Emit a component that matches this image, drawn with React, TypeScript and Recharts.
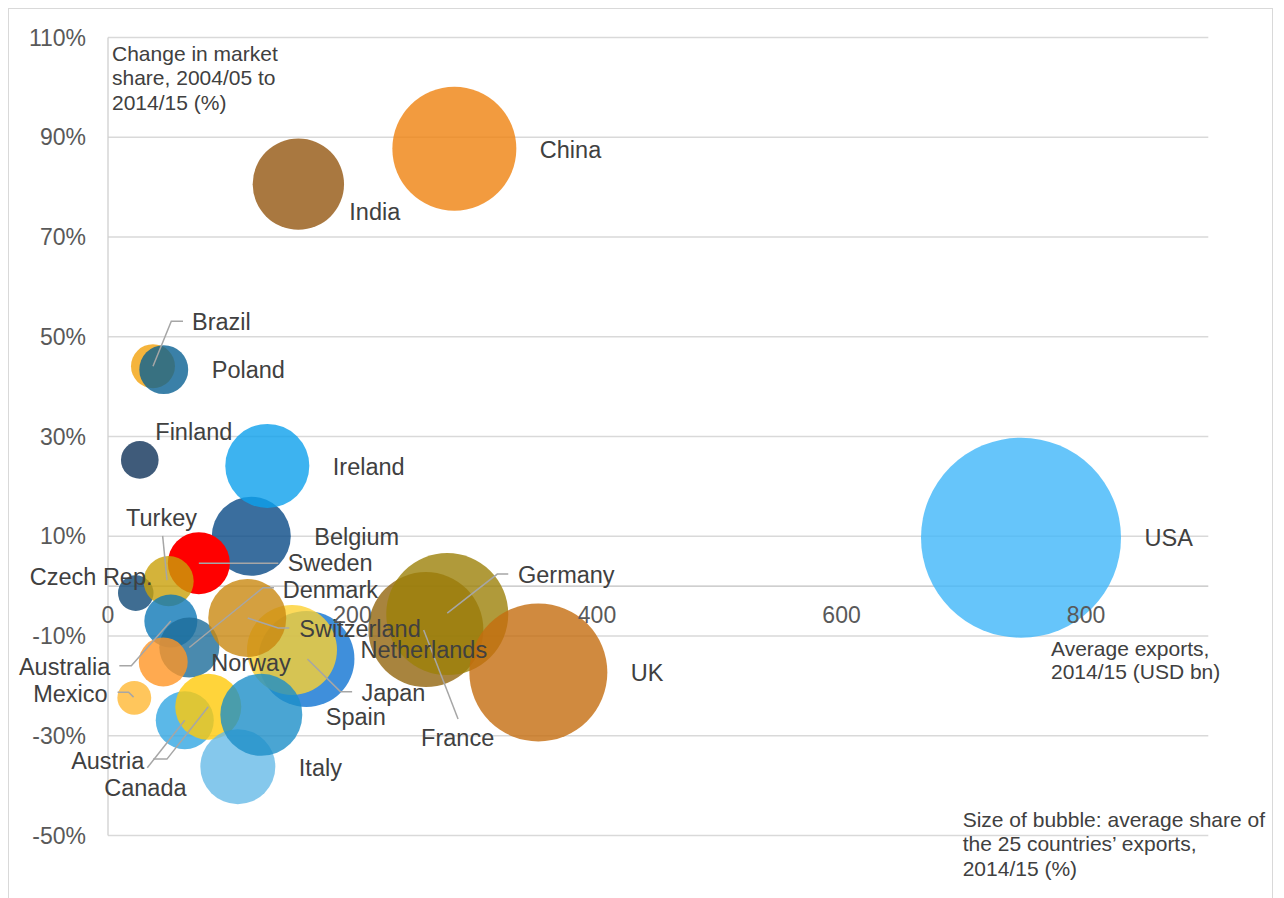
import React from 'react';
import {
    ScatterChart,
    Scatter,
    XAxis,
    YAxis,
    ZAxis,
    CartesianGrid,
    ReferenceLine,
    ReferenceDot
} from 'recharts';

// drawing order (later = on top)
const countries = [
    'USA', 'China', 'India', 'France', 'Germany', 'UK', 'Finland', 'Brazil', 'Poland',
    'Belgium', 'Ireland', 'Sweden', 'Czech Rep.', 'Turkey', 'Australia', 'Denmark',
    'Norway', 'Japan', 'Netherlands', 'Switzerland', 'Mexico', 'Austria', 'Canada',
    'Italy', 'Spain'
];
// average exports 2014/15, USD bn
const avgExports = [
    746.8, 283.3, 155.7, 260.0, 277.5, 352.0, 26.0, 36.8, 45.6,
    117.2, 130.3, 74.3, 22.7, 49.6, 51.4, 66.5,
    45.2, 162.3, 150.5, 113.9, 21.5, 62.8, 82.0,
    106.2, 125.4
];
// change in market share, 2004/05 to 2014/15 (%)
const shareChange = [
    9.7, 87.7, 80.6, -8.7, -5.6, -17.3, 25.3, 44.1, 43.4,
    10.0, 24.1, 4.6, -1.4, 1.0, -7.0, -12.3,
    -15.2, -14.6, -12.8, -6.4, -22.4, -26.9, -24.2,
    -36.2, -25.8
];
// average share of the 25 countries' exports, 2014/15 (%)
const exportShare = [
    20.9, 8.03, 4.36, 6.91, 7.78, 9.95, 0.74, 1.01, 1.25,
    3.26, 3.69, 2.01, 0.66, 1.31, 1.47, 1.88,
    1.25, 4.82, 4.23, 3.18, 0.6, 1.76, 2.28,
    2.94, 3.51
];

const xTicks = [0, 200, 400, 600, 800];
const yTicks = [-50, -30, -10, 10, 30, 50, 70, 90, 110];

const bubbles = countries.map((name, i) => ({
    name,
    x: avgExports[i],
    y: shareChange[i],
    z: exportShare[i]
}));

const COLORS: Record<string, string> = {
    USA: '#40B7F9',
    China: '#EF820F',
    India: '#945610',
    France: '#92650E',
    Germany: '#9C8109',
    UK: '#C46D0F',
    Finland: '#0F3259',
    Brazil: '#F3A10B',
    Poland: '#096092',
    Belgium: '#094A86',
    Ireland: '#0DA0EC',
    Sweden: '#FF0000',
    'Czech Rep.': '#0F4977',
    Turkey: '#C9A009',
    Australia: '#0E78B7',
    Denmark: '#1D6D9A',
    Norway: '#FF9524',
    Japan: '#0F73D2',
    Netherlands: '#FDD131',
    Switzerland: '#C98810',
    Mexico: '#FFB833',
    Austria: '#32A6E2',
    Canada: '#FFC909',
    Italy: '#67BAE7',
    Spain: '#1D8FC8'
};

// label placement relative to bubble centre; no dx = to the right of the bubble
type Place = { dx?: number; dy: number; anchor?: 'start' | 'end'; leader?: number[][] };
const PLACES: Record<string, Place> = {
    USA: { dy: 0.6 },
    China: { dy: 1.3 },
    India: { dx: 51, dy: 28 },
    Brazil: { dx: 39, dy: -44.3, leader: [[30, -45], [18.3, -45], [0, 0]] },
    Poland: { dy: 0.5 },
    Finland: { dx: 15.5, dy: -28.3 },
    Ireland: { dy: 0.7 },
    Turkey: { dx: -42.6, dy: -62.7, leader: [[-6, -45.3], [-1.6, -1]] },
    Belgium: { dy: 0.7 },
    Sweden: { dx: 88.8, dy: 0.3, leader: [[0, 0], [79.5, 0]] },
    'Czech Rep.': { dx: -106, dy: -16.3 },
    Denmark: { dx: 93.4, dy: -57.8, leader: [[84.7, -59.8], [73.7, -59.8], [0, 0]] },
    Germany: { dx: 70.7, dy: -39, leader: [[61, -40], [50, -40], [0, -1]] },
    Switzerland: { dx: 52, dy: 11.3, leader: [[42, 10], [31, 10], [0.5, 0]] },
    Netherlands: { dy: 0 },
    Australia: { dx: -60.5, dy: 45.7, anchor: 'end', leader: [[-51.5, 44.7], [-39.5, 44.7], [0, 0]] },
    Norway: { dy: 1.3 },
    Japan: { dx: 55, dy: 34.3, leader: [[45.7, 32.7], [34, 32.7], [1, 0]] },
    Mexico: { dx: -26.7, dy: -3.7, anchor: 'end', leader: [[-16.7, -5.7], [-5.7, -5.7], [-0.7, -0.7]] },
    Spain: { dy: 1.7 },
    UK: { dy: 0.8 },
    France: { dx: -4.8, dy: 108.8, leader: [[32.2, 89.5], [-2.2, 0.5]] },
    Austria: { dx: -40.5, dy: 40.5, anchor: 'end', leader: [[-37.5, 47.5], [0, 0]] },
    Canada: { dx: -104, dy: 81, leader: [[-55, 52.3], [-41.3, 52.3], [0, 0]] },
    Italy: { dy: 1.8 }
};

const MAX_R = 100;

const radiusOf = (props: any) => {
    if (props.width) return props.width / 2;
    return Math.sqrt(Math.max(props.size || 0, 0) / Math.PI);
};

const Bubble = (props: any) => {
    const { cx, cy, payload } = props;
    const name = payload.name;
    return (
        <circle
            cx={cx}
            cy={cy}
            r={radiusOf(props)}
            fill={COLORS[name]}
            fillOpacity={name === 'Sweden' ? 1 : 0.8}
        />
    );
};

const BubbleLabel = (props: any) => {
    const { cx, cy, payload } = props;
    const p = PLACES[payload.name];
    const r = radiusOf(props);
    const dx = p.dx === undefined ? r + 23.5 : p.dx;
    return (
        <g>
            {p.leader && (
                <polyline
                    points={p.leader.map(([a, b]) => `${cx + a},${cy + b}`).join(' ')}
                    fill="none"
                    stroke="#A6A6A6"
                    strokeWidth={1.5}
                />
            )}
            <text
                x={cx + dx}
                y={cy + p.dy}
                textAnchor={p.anchor || 'start'}
                dominantBaseline="central"
                fontSize={23.5}
                fill="#404040"
            >
                {payload.name}
            </text>
        </g>
    );
};

const titleStyle: React.CSSProperties = {
    position: 'absolute',
    fontSize: 21,
    color: '#404040',
    whiteSpace: 'nowrap'
};

const App = () => {
    return (
        <div
            style={{
                position: 'relative',
                width: 1263,
                height: 900,
                border: '1px solid #D9D9D9',
                background: '#fff',
                fontFamily: '"Liberation Sans", Arial, sans-serif'
            }}
        >
            <style>{'body{overflow:hidden}'}</style>
            <ScatterChart
                width={1263}
                height={888}
                margin={{ top: 28.5, right: 63.7, bottom: 61.5, left: 0 }}
            >
                <CartesianGrid vertical={false} stroke="#D9D9D9" strokeWidth={1.3} />
                <XAxis type="number" dataKey="x" domain={[0, 900]} hide />
                <YAxis
                    type="number"
                    dataKey="y"
                    domain={[-50, 110]}
                    ticks={yTicks}
                    interval={0}
                    width={99}
                    tickLine={false}
                    tickSize={0}
                    tickMargin={22}
                    tickFormatter={(v: number) => `${v}%`}
                    axisLine={{ stroke: '#D0D0D0', strokeWidth: 1.3 }}
                    tick={{ fontSize: 23, fill: '#595959' }}
                />
                <ZAxis
                    type="number"
                    dataKey="z"
                    domain={[0, Math.max(...exportShare)]}
                    range={[0, Math.PI * MAX_R * MAX_R]}
                />
                <ReferenceLine y={0} stroke="#BFBFBF" strokeWidth={1.3} />
                <Scatter data={bubbles} shape={<Bubble />} isAnimationActive={false} />
                <Scatter data={bubbles} shape={<BubbleLabel />} isAnimationActive={false} />
                {xTicks.map((t) => (
                    <ReferenceDot
                        key={t}
                        x={t}
                        y={0}
                        r={0}
                        shape={(p: any) => (
                            <text
                                x={p.cx}
                                y={p.cy + 29}
                                textAnchor="middle"
                                dominantBaseline="central"
                                fontSize={23}
                                fill="#595959"
                            >
                                {t}
                            </text>
                        )}
                    />
                ))}
            </ScatterChart>
            <div style={{ ...titleStyle, left: 103, top: 32.75, lineHeight: '24.5px' }}>
                Change in market<br />share, 2004/05 to<br />2014/15 (%)
            </div>
            <div style={{ ...titleStyle, left: 1042, top: 627.5, lineHeight: '23.5px' }}>
                Average exports,<br />2014/15 (USD bn)
            </div>
            <div style={{ ...titleStyle, left: 953.7, top: 798.7, lineHeight: '24.6px' }}>
                Size of bubble: average share of<br />the 25 countries’ exports,<br />2014/15 (%)
            </div>
        </div>
    );
};

export default App;
